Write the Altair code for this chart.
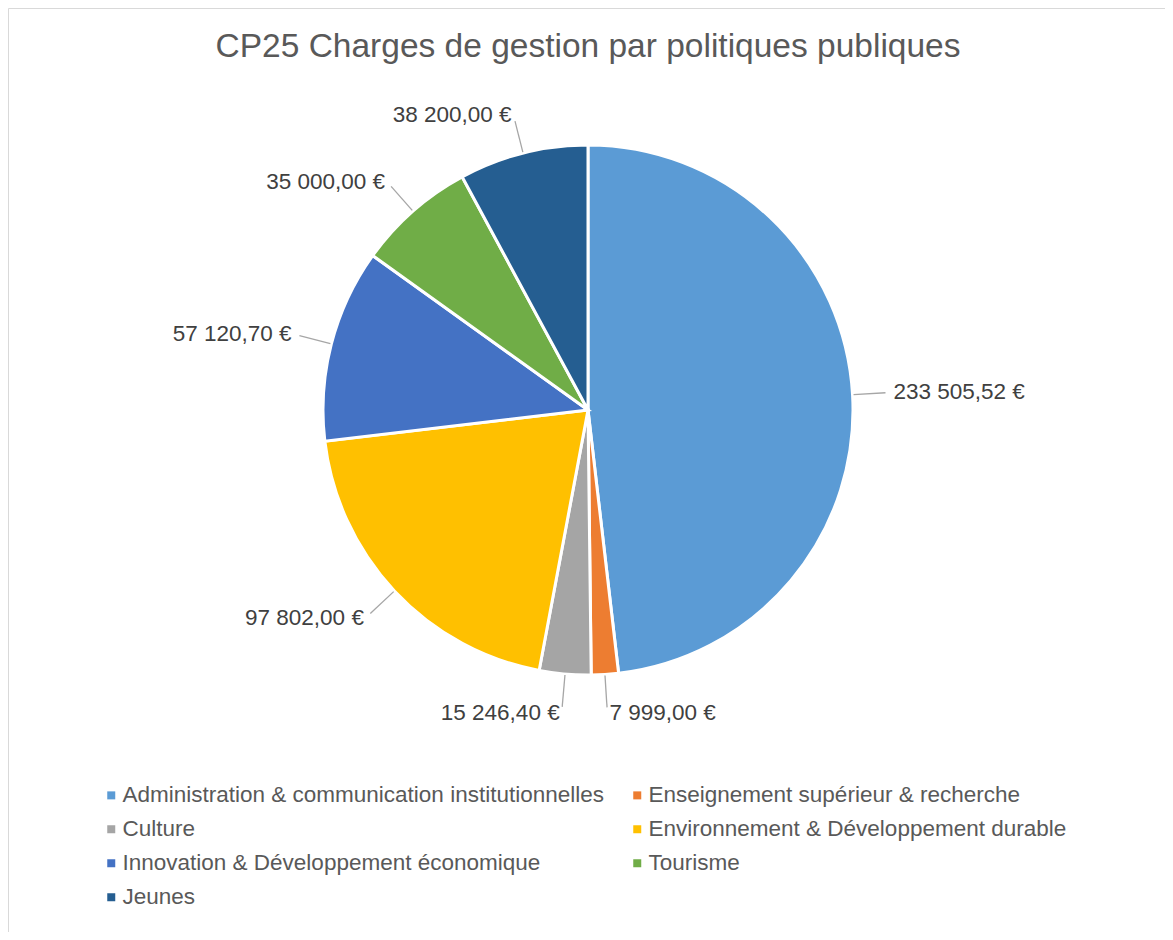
import altair as alt
import pandas as pd

categories = [
    "Administration & communication institutionnelles",
    "Enseignement supérieur & recherche",
    "Culture",
    "Environnement & Développement durable",
    "Innovation & Développement économique",
    "Tourisme",
    "Jeunes",
]
values = [233505.52, 7999.00, 15246.40, 97802.00, 57120.70, 35000.00, 38200.00]
value_labels = ["233 505,52 €", "7 999,00 €", "15 246,40 €", "97 802,00 €",
                "57 120,70 €", "35 000,00 €", "38 200,00 €"]
colors = ["#5B9BD5", "#ED7D31", "#A5A5A5", "#FFC000", "#4472C4", "#70AD47", "#255E91"]
title_text = "CP25 Charges de gestion par politiques publiques"

df = pd.DataFrame({
    "idx": list(range(len(categories))),
    "category": categories,
    "value": values,
    "label": value_labels,
})

W, H = 1157, 924
CX, CY = 580, 402
R = 265
R_LINE0, R_LINE1, R_LABEL = 266, 298, 304
FONT = "Liberation Sans, Arial, sans-serif"

base = (
    alt.Chart(df)
    .transform_joinaggregate(total="sum(value)")
    .transform_window(cum="sum(value)", sort=[alt.SortField("idx")], frame=[None, 0])
    .transform_calculate(mid="(datum.cum - datum.value/2) / datum.total * 2 * PI")
    .transform_calculate(
        x1=f"{CX} + {R_LINE0} * sin(datum.mid)",
        y1=f"{CY} - {R_LINE0} * cos(datum.mid)",
        x2=f"{CX} + {R_LINE1} * sin(datum.mid)",
        y2=f"{CY} - {R_LINE1} * cos(datum.mid)",
        lx=f"{CX} + {R_LABEL} * sin(datum.mid)",
        ly=f"{CY} - {R_LABEL} * cos(datum.mid)",
    )
)

pie = alt.Chart(df).mark_arc(radius=R, stroke="white", strokeWidth=3).encode(
    theta=alt.Theta("value:Q", stack=True),
    order=alt.Order("idx:Q"),
    color=alt.Color(
        "category:N",
        scale=alt.Scale(domain=categories, range=colors),
        sort=categories,
        legend=alt.Legend(
            title=None,
            orient="none",
            legendX=92,
            legendY=776,
            direction="horizontal",
            columns=2,
            columnPadding=22,
            rowPadding=11,
            symbolType="square",
            symbolSize=64,
            symbolStrokeWidth=0,
            labelFont=FONT,
            labelFontSize=22.5,
            labelColor="#595959",
            labelLimit=0,
            labelOffset=0,
        ),
    ),
    x=alt.value(CX),
    y=alt.value(CY),
)

lines = base.mark_rule(color="#A6A6A6", strokeWidth=1.3).encode(
    x=alt.X("x1:Q", scale=None, axis=None),
    y=alt.Y("y1:Q", scale=None, axis=None),
    x2="x2:Q",
    y2="y2:Q",
)

text_right = base.transform_filter("datum.mid < PI").mark_text(
    align="left", baseline="middle", font=FONT, fontSize=22.5, color="#404040", dx=2
).encode(
    x=alt.X("lx:Q", scale=None, axis=None),
    y=alt.Y("ly:Q", scale=None, axis=None),
    text="label:N",
)

text_left = base.transform_filter("datum.mid >= PI").mark_text(
    align="right", baseline="middle", font=FONT, fontSize=22.5, color="#404040", dx=-2
).encode(
    x=alt.X("lx:Q", scale=None, axis=None),
    y=alt.Y("ly:Q", scale=None, axis=None),
    text="label:N",
)

title = alt.Chart(pd.DataFrame({"t": [title_text]})).mark_text(
    align="center", baseline="middle", font=FONT, fontSize=33.5, color="#595959"
).encode(text="t:N", x=alt.value(CX), y=alt.value(39))

chart = (
    alt.layer(pie, lines, text_right, text_left, title)
    .properties(width=W, height=H, padding=0, autosize="none")
    .configure_view(stroke="#D9D9D9", strokeWidth=1)
)

chart.save("out.html", embed_options={"renderer": "svg", "actions": False})
